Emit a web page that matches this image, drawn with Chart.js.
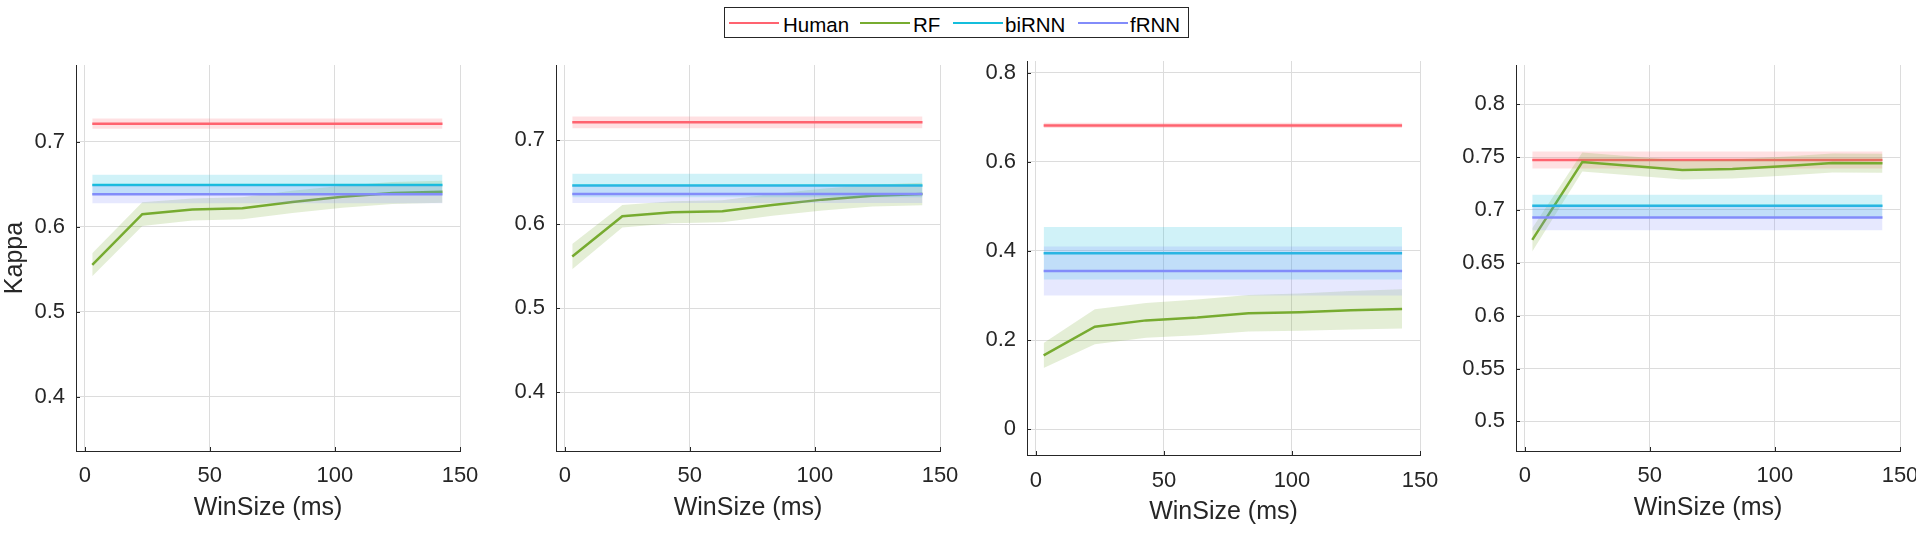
<!DOCTYPE html>
<html>
<head>
<meta charset="utf-8">
<script src="https://cdn.jsdelivr.net/npm/chart.js@4.4.1/dist/chart.umd.min.js"></script>
<style>
html,body{margin:0;padding:0;background:#fff;width:1916px;height:536px;overflow:hidden;font-family:'Liberation Sans',Arial,sans-serif;}
canvas{position:absolute;left:0;top:0;}
#legend{position:absolute;left:724px;top:7px;width:463px;height:29px;border:1px solid #262626;background:#fff;z-index:5;}
.ll{position:absolute;top:14px;height:2px;width:50px;}
.lt{position:absolute;top:7px;font-size:20.5px;line-height:20px;color:#000;white-space:nowrap;}
</style>
</head>
<body>
<canvas id="c1" width="1916" height="536"></canvas>
<canvas id="c2" width="1916" height="536"></canvas>
<canvas id="c3" width="1916" height="536"></canvas>
<canvas id="c4" width="1916" height="536"></canvas>
<div id="legend"></div>
<script>
// ---------------- DATA ----------------
const seriesNames = ['Human', 'RF', 'biRNN', 'fRNN'];
const winSize = [3, 23, 43, 63, 83, 103, 123, 143];
const xTicks = [0, 50, 100, 150];

// Panel 1
const p1YTicks = [0.4, 0.5, 0.6, 0.7];
const p1Human = 0.721, p1HumanErr = 0.006;
const p1BiRNN = 0.649, p1BiRNNErr = 0.012;
const p1FRNN = 0.638, p1FRNNErr = 0.0105;
const p1RF = [0.555, 0.6145, 0.620, 0.6215, 0.629, 0.635, 0.6395, 0.641];
const p1RFErr = [0.0135, 0.014, 0.013, 0.013, 0.013, 0.013, 0.013, 0.013];

// Panel 2
const p2YTicks = [0.4, 0.5, 0.6, 0.7];
const p2Human = 0.7214, p2HumanErr = 0.007;
const p2BiRNN = 0.646, p2BiRNNErr = 0.014;
const p2FRNN = 0.636, p2FRNNErr = 0.0106;
const p2RF = [0.5615, 0.6095, 0.6143, 0.6155, 0.623, 0.6293, 0.634, 0.636];
const p2RFErr = [0.015, 0.0135, 0.013, 0.013, 0.013, 0.013, 0.013, 0.0135];

// Panel 3
const p3YTicks = [0, 0.2, 0.4, 0.6, 0.8];
const p3Human = 0.6816, p3HumanErr = 0.006;
const p3BiRNN = 0.395, p3BiRNNErr = 0.059;
const p3FRNN = 0.355, p3FRNNErr = 0.055;
const p3RF = [0.1657, 0.230, 0.2443, 0.251, 0.2605, 0.2628, 0.267, 0.270];
const p3RFErr = [0.028, 0.039, 0.039, 0.040, 0.041, 0.042, 0.043, 0.044];

// Panel 4
const p4YTicks = [0.5, 0.55, 0.6, 0.65, 0.7, 0.75, 0.8];
const p4Human = 0.7472, p4HumanErr = 0.008;
const p4BiRNN = 0.704, p4BiRNNErr = 0.0104;
const p4FRNN = 0.6927, p4FRNNErr = 0.012;
const p4RF = [0.6717, 0.7453, 0.7415, 0.7377, 0.7387, 0.7412, 0.7443, 0.744];
const p4RFErr = [0.011, 0.009, 0.009, 0.009, 0.009, 0.009, 0.009, 0.009];

// ---------------- STYLE ----------------
const colors = {
  Human: [255, 99, 112],
  RF: [119, 172, 48],
  biRNN: [20, 190, 220],
  fRNN: [130, 140, 250]
};
const rgb = c => `rgb(${c[0]},${c[1]},${c[2]})`;
const rgba = (c, a) => `rgba(${c[0]},${c[1]},${c[2]},${a})`;
const FONT = "'Liberation Sans', Arial, sans-serif";
const AX = '#262626';

// legend
(function () {
  const lg = document.getElementById('legend');
  const lineX = [4, 135, 228, 353];
  const textX = [58, 188, 280, 405];
  seriesNames.forEach((n, i) => {
    const l = document.createElement('div');
    l.className = 'll'; l.style.left = lineX[i] + 'px'; l.style.background = rgb(colors[n]);
    lg.appendChild(l);
    const t = document.createElement('div');
    t.className = 'lt'; t.style.left = textX[i] + 'px'; t.textContent = n;
    lg.appendChild(t);
  });
})();

const inwardTicks = {
  id: 'inwardTicks',
  afterDraw(chart) {
    const ctx = chart.ctx, a = chart.chartArea, xs = chart.scales.x, ys = chart.scales.y;
    ctx.save();
    ctx.strokeStyle = AX; ctx.lineWidth = 1;
    ctx.beginPath();
    ys.ticks.forEach(t => { const p = Math.round(ys.getPixelForValue(t.value)) + 0.5; ctx.moveTo(a.left, p); ctx.lineTo(a.left + 4, p); });
    xs.ticks.forEach(t => { const p = Math.round(xs.getPixelForValue(t.value)) + 0.5; ctx.moveTo(p, a.bottom); ctx.lineTo(p, a.bottom - 4); });
    ctx.stroke();
    ctx.restore();
  }
};

function constSeries(v) { return [{ x: winSize[0], y: v }, { x: winSize[winSize.length - 1], y: v }]; }
function band(name, mean, err, isConst) {
  const c = colors[name];
  let lo, hi, mid;
  if (isConst) {
    lo = constSeries(mean - err); hi = constSeries(mean + err); mid = constSeries(mean);
  } else {
    lo = winSize.map((x, i) => ({ x, y: mean[i] - err[i] }));
    hi = winSize.map((x, i) => ({ x, y: mean[i] + err[i] }));
    mid = winSize.map((x, i) => ({ x, y: mean[i] }));
  }
  return [
    { label: name + ' lo', data: lo, borderWidth: 0, pointRadius: 0, fill: false, borderColor: 'rgba(0,0,0,0)' },
    { label: name + ' hi', data: hi, borderWidth: 0, pointRadius: 0, fill: '-1', borderColor: 'rgba(0,0,0,0)', backgroundColor: rgba(c, 0.2) },
    { label: name, data: mid, borderWidth: 2.5, pointRadius: 0, fill: false, borderColor: rgb(c) }
  ];
}

function makePanel(id, d, box) {
  const yW = box.yW;
  const datasets = [].concat(
    band('fRNN', d.f, d.fErr, true),
    band('biRNN', d.bi, d.biErr, true),
    band('RF', d.rf, d.rfErr, false),
    band('Human', d.h, d.hErr, true)
  );
  new Chart(document.getElementById(id), {
    type: 'line',
    data: { datasets },
    plugins: [inwardTicks],
    options: {
      responsive: false, animation: false, devicePixelRatio: 1,
      layout: { padding: { left: box.left - yW, right: 1916 - box.right, top: box.top, bottom: 0 } },
      plugins: { legend: { display: false }, tooltip: { enabled: false } },
      elements: { line: { tension: 0 } },
      scales: {
        x: {
          type: 'linear', min: -3.5, max: 150,
          afterBuildTicks: s => { s.ticks = xTicks.map(v => ({ value: v })); },
          afterFit: s => { s.height = 536 - box.bottom; s.paddingLeft = 0; s.paddingRight = 0; },
          grid: { color: '#dcdcdc', lineWidth: 1, drawTicks: false },
          border: { display: true, color: AX, width: 1 },
          ticks: { autoSkip: false, maxRotation: 0, padding: box.xPad, color: AX, font: { family: FONT, size: 22 }, callback: v => String(v) },
          title: { display: true, text: 'WinSize (ms)', color: AX, font: { family: FONT, size: 25 }, padding: { top: 0, bottom: box.tPad } }
        },
        y: {
          type: 'linear', min: d.ymin, max: d.ymax,
          afterBuildTicks: s => { s.ticks = d.yTicks.map(v => ({ value: v })); },
          afterFit: s => { s.width = yW; s.paddingTop = 0; s.paddingBottom = 0; },
          grid: { color: '#dcdcdc', lineWidth: 1, drawTicks: false },
          border: { display: true, color: AX, width: 1 },
          ticks: { autoSkip: false, padding: 11, color: AX, font: { family: FONT, size: 22 }, callback: v => String(+(+v).toFixed(2)) },
          title: { display: !!box.ytitle, text: 'Kappa', color: AX, font: { family: FONT, size: 25 }, padding: { top: 0, bottom: 0 } }
        }
      }
    }
  });
}

makePanel('c1', { h: p1Human, hErr: p1HumanErr, bi: p1BiRNN, biErr: p1BiRNNErr, f: p1FRNN, fErr: p1FRNNErr, rf: p1RF, rfErr: p1RFErr, yTicks: p1YTicks, ymin: 0.336, ymax: 0.79 },
  { left: 76, right: 460, top: 65, bottom: 451, yW: 76, xPad: 12, tPad: 13, ytitle: true });
makePanel('c2', { h: p2Human, hErr: p2HumanErr, bi: p2BiRNN, biErr: p2BiRNNErr, f: p2FRNN, fErr: p2FRNNErr, rf: p2RF, rfErr: p2RFErr, yTicks: p2YTicks, ymin: 0.330, ymax: 0.7896 },
  { left: 556, right: 940, top: 65, bottom: 451, yW: 70, xPad: 12, tPad: 13 });
makePanel('c3', { h: p3Human, hErr: p3HumanErr, bi: p3BiRNN, biErr: p3BiRNNErr, f: p3FRNN, fErr: p3FRNNErr, rf: p3RF, rfErr: p3RFErr, yTicks: p3YTicks, ymin: -0.0576, ymax: 0.826 },
  { left: 1027, right: 1420, top: 61, bottom: 455, yW: 70, xPad: 13, tPad: 9 });
makePanel('c4', { h: p4Human, hErr: p4HumanErr, bi: p4BiRNN, biErr: p4BiRNNErr, f: p4FRNN, fErr: p4FRNNErr, rf: p4RF, rfErr: p4RFErr, yTicks: p4YTicks, ymin: 0.472, ymax: 0.837 },
  { left: 1516, right: 1900, top: 65, bottom: 451, yW: 70, xPad: 12, tPad: 13 });
</script>
</body>
</html>
